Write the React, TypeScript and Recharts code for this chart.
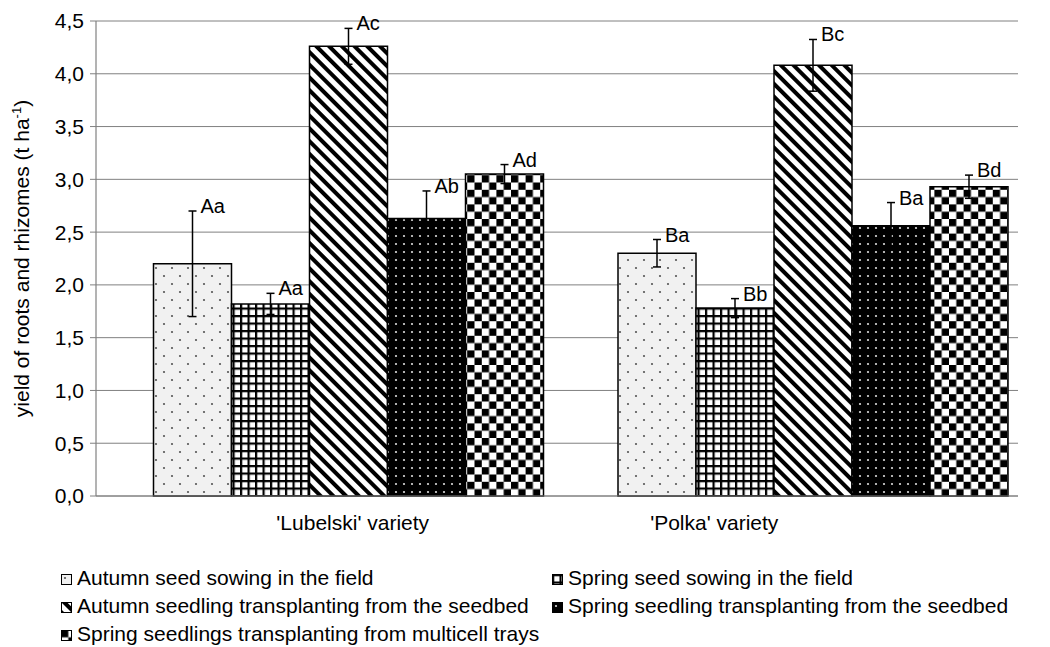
import { BarChart, Bar, XAxis, YAxis, CartesianGrid, ErrorBar, LabelList } from "recharts";

const categories = ["'Lubelski' variety", "'Polka' variety"];

const seriesNames = [
  "Autumn seed sowing in the field",
  "Spring seed sowing in the field",
  "Autumn seedling transplanting from the seedbed",
  "Spring seedling transplanting from the seedbed",
  "Spring seedlings transplanting from multicell trays",
];

// yield (t/ha) and error half-widths, per variety
const autumnSeed = [2.2, 2.3];
const autumnSeedErr = [0.5, 0.13];
const springSeed = [1.82, 1.78];
const springSeedErr = [0.1, 0.09];
const autumnSeedling = [4.26, 4.08];
const autumnSeedlingErr = [0.17, 0.245];
const springSeedling = [2.63, 2.56];
const springSeedlingErr = [0.26, 0.22];
const traySeedlings = [3.05, 2.93];
const traySeedlingsErr = [0.09, 0.11];

// significance letters above each bar
const autumnSeedLetters = ["Aa", "Ba"];
const springSeedLetters = ["Aa", "Bb"];
const autumnSeedlingLetters = ["Ac", "Bc"];
const springSeedlingLetters = ["Ab", "Ba"];
const traySeedlingsLetters = ["Ad", "Bd"];

const yTicks = [0, 0.5, 1, 1.5, 2, 2.5, 3, 3.5, 4, 4.5];

const FONT = "'Liberation Sans', Arial, sans-serif";

const series = [
  { key: "s0", values: autumnSeed, errors: autumnSeedErr, letters: autumnSeedLetters, fill: "pDots" },
  { key: "s1", values: springSeed, errors: springSeedErr, letters: springSeedLetters, fill: "pGrid" },
  { key: "s2", values: autumnSeedling, errors: autumnSeedlingErr, letters: autumnSeedlingLetters, fill: "pDiag" },
  { key: "s3", values: springSeedling, errors: springSeedlingErr, letters: springSeedlingLetters, fill: "pBlack" },
  { key: "s4", values: traySeedlings, errors: traySeedlingsErr, letters: traySeedlingsLetters, fill: "pCheck" },
];

const data = categories.map((name, i) => {
  const row: Record<string, string | number> = { name };
  series.forEach((s) => {
    row[s.key] = s.values[i];
    row[s.key + "e"] = s.errors[i];
  });
  return row;
});

function Patterns({ prefix = "" }: { prefix?: string }) {
  return (
    <defs>
      <pattern id={prefix + "pDots"} width={16} height={16} patternUnits="userSpaceOnUse">
        <rect width={16} height={16} fill="#f1f1f1" />
        <circle cx={4} cy={4} r={1.1} fill="#555" />
        <circle cx={12} cy={12} r={1.1} fill="#555" />
      </pattern>
      <pattern id={prefix + "pGrid"} width={7.5} height={7.5} patternUnits="userSpaceOnUse">
        <rect width={7.5} height={7.5} fill="#fff" />
        <rect width={7.5} height={2.2} fill="#000" />
        <rect width={2.2} height={7.5} fill="#000" />
      </pattern>
      <pattern id={prefix + "pDiag"} width={9} height={9} patternUnits="userSpaceOnUse" patternTransform="rotate(-45)">
        <rect width={9} height={9} fill="#fff" />
        <rect width={4} height={9} fill="#000" />
      </pattern>
      <pattern id={prefix + "pBlack"} width={8} height={8} patternUnits="userSpaceOnUse">
        <rect width={8} height={8} fill="#000" />
        <circle cx={4} cy={4} r={1.1} fill="#ddd" />
      </pattern>
      <pattern id={prefix + "pCheck"} width={14.6} height={14.6} patternUnits="userSpaceOnUse">
        <rect width={14.6} height={14.6} fill="#fff" />
        <rect width={7.3} height={7.3} fill="#000" />
        <rect x={7.3} y={7.3} width={7.3} height={7.3} fill="#000" />
      </pattern>
    </defs>
  );
}

// the category labels in the original are not centred under their groups
const categoryShift = [5, -98];

function CategoryTick(props: any) {
  const { x, y, payload, index } = props;
  return (
    <text x={x + categoryShift[index]} y={y + 32} textAnchor="middle" fontSize={21} fontFamily={FONT} fill="#000">
      {payload.value}
    </text>
  );
}

function YLabel(props: any) {
  const vb = props.viewBox;
  const cx = 29;
  const cy = vb.y + vb.height / 2;
  return (
    <text
      x={cx}
      y={cy}
      transform={`rotate(-90, ${cx}, ${cy})`}
      textAnchor="middle"
      fontSize={21}
      fontFamily={FONT}
      fill="#000"
    >
      yield of roots and rhizomes (t ha
      <tspan dy={-8} fontSize={13}>-1</tspan>
      <tspan dy={8}>)</tspan>
    </text>
  );
}

function letterLabel(s: (typeof series)[number]) {
  return (props: any) => {
    const { x, y, width, height, value, index } = props;
    const v = Number(value);
    const errTop = y - (s.errors[index] * height) / v;
    return (
      <text x={x + width / 2 + 8} y={errTop + 2} fontSize={20} fontFamily={FONT} fill="#000">
        {s.letters[index]}
      </text>
    );
  };
}

export default function App() {
  return (
    <div style={{ position: "absolute", left: 0, top: 0, width: 1050, height: 647, background: "#fff" }}>
      <BarChart
        width={1050}
        height={540}
        data={data}
        margin={{ top: 21, right: 32, bottom: 4, left: 0 }}
        barCategoryGap={38}
        barGap={0}
      >
        <Patterns />
        <CartesianGrid vertical={false} stroke="#808080" strokeWidth={1} />
        <XAxis
          dataKey="name"
          height={40}
          padding={{ left: 19.5, right: -26.5 }}
          tickLine={false}
          tickSize={0}
          axisLine={{ stroke: "#808080", strokeWidth: 1.2 }}
          tick={<CategoryTick />}
          interval={0}
        />
        <YAxis
          width={96}
          domain={[0, 4.5]}
          ticks={yTicks}
          interval={0}
          tickFormatter={(v: number) => v.toFixed(1).replace(".", ",")}
          tick={{ fontSize: 21, fontFamily: FONT, fill: "#000" }}
          tickSize={6}
          tickMargin={6}
          tickLine={{ stroke: "#808080" }}
          axisLine={{ stroke: "#808080", strokeWidth: 1.2 }}
          label={{ content: YLabel }}
        />
        {series.map((s, i) => (
          <Bar
            key={s.key}
            dataKey={s.key}
            name={seriesNames[i]}
            fill={`url(#${s.fill})`}
            stroke="#000"
            strokeWidth={1.5}
            isAnimationActive={false}
          >
            <ErrorBar dataKey={s.key + "e"} width={4} stroke="#000" strokeWidth={1.5} />
            <LabelList dataKey={s.key} content={letterLabel(s)} />
          </Bar>
        ))}
      </BarChart>
      <svg width={0} height={0} style={{ position: "absolute" }}>
        <Patterns prefix="lg-" />
      </svg>
      <div
        style={{
          position: "absolute",
          left: 0,
          top: 564,
          width: 1050,
          fontFamily: FONT,
          fontSize: 21,
          lineHeight: "28px",
          color: "#000",
        }}
      >
        {series.map((s, i) => (
          <div
            key={s.key}
            style={{
              position: "absolute",
              left: i % 2 === 0 ? 61 : 552,
              top: Math.floor(i / 2) * 28,
              whiteSpace: "nowrap",
            }}
          >
            <svg width={11} height={11} style={{ verticalAlign: "baseline", marginRight: 5 }}>
              <rect x={0.5} y={0.5} width={10} height={10} fill={`url(#lg-${s.fill})`} stroke="#000" strokeWidth={1} />
            </svg>
            {seriesNames[i]}
          </div>
        ))}
      </div>
    </div>
  );
}
